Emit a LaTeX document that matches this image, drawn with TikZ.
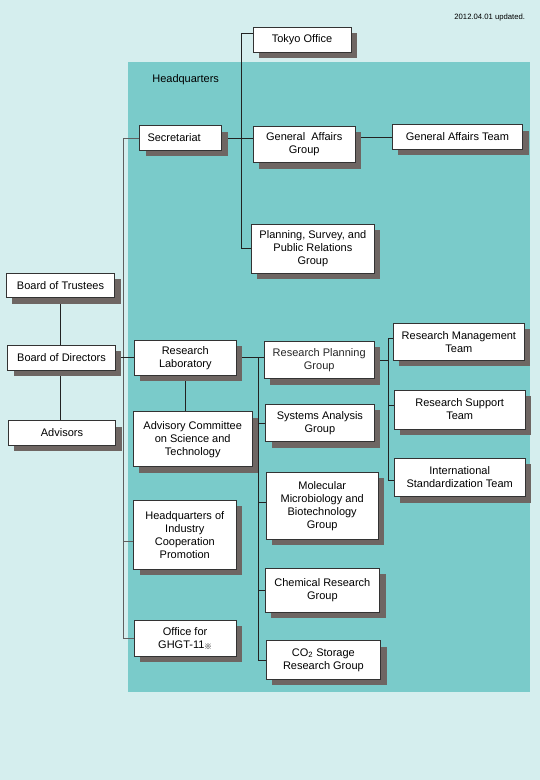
\documentclass[tikz,border=0pt]{standalone}
\usepackage{fontspec}
\setmainfont{Liberation Sans}
\newfontfamily\cjk{Noto Sans CJK JP}
\usepackage{xcolor}
\definecolor{orgBack}{RGB}{213,238,238}
\definecolor{orgTeal}{RGB}{122,203,202}
\definecolor{orgShadow}{RGB}{110,102,99}
\definecolor{orgLine}{RGB}{34,34,34}
\definecolor{orgBus}{RGB}{95,95,95}
\usepackage{tikz}
\usetikzlibrary{shapes,positioning,shadows,backgrounds}

\begin{document}
\begin{tikzpicture}[x=1pt, y=-1pt,
    unit/.style={draw=black!80, line width=0.8pt, fill=white, inner sep=2pt, align=center,
        font=\fontsize{11}{13}\selectfont,
        drop shadow={shadow xshift=6pt, shadow yshift=-6pt, fill=orgShadow, opacity=1}},
    link/.style={draw=orgLine, line width=0.8pt}]
    \useasboundingbox (0,0) rectangle (540,780);

    \node[anchor=east, font=\fontsize{7.7}{9}\selectfont] (date) at (528.6,17.7) {2012.04.01 updated.};
    \node[anchor=west, font=\fontsize{11}{13}\selectfont] (hq) at (148.8,80) {Headquarters};

    \node[unit, minimum width=98, minimum height=25] (tokyo) at (302,39.8) {Tokyo Office};
    \node[unit, minimum width=82, minimum height=24.6, text width=66, inner xsep=8, align=left] (sec) at (180.5,138) {Secretariat};
    \node[unit, minimum width=102.4, minimum height=36.7] (ga) at (304.2,144.3) {General\ \ Affairs\\Group};
    \node[unit, minimum width=130.7, minimum height=24.6] (gat) at (457.4,137) {General Affairs Team};
    \node[unit, minimum width=122.9, minimum height=49.3] (plan) at (312.9,248.7) {Planning, Survey, and\\Public Relations\\Group};

    \node[unit, minimum width=108.5, minimum height=24.4] (trust) at (60.5,285.5) {Board of Trustees};
    \node[unit, minimum width=107.8, minimum height=25] (dir) at (61.5,357.8) {Board of Directors};
    \node[unit, minimum width=107.4, minimum height=24.6] (adv) at (62,433) {Advisors};

    \node[unit, minimum width=101.9, minimum height=35] (lab) at (185.3,357.8) {Research\\Laboratory};
    \node[unit, minimum width=119.5, minimum height=55] (acst) at (192.7,439.2) {Advisory Committee\\on Science and\\Technology};
    \node[unit, minimum width=102.3, minimum height=69] (hicp) at (184.8,534.8) {Headquarters of\\Industry\\Cooperation\\Promotion};
    \node[unit, minimum width=102.2, minimum height=36] (ghgt) at (185.1,638.3) {Office for\\GHGT-11{\cjk\fontsize{7.5}{7.5}\selectfont\raisebox{-1.5pt}{※}}};

    \node[unit, text=black!85, minimum width=110.2, minimum height=37.4] (rpg) at (319.2,360) {Research Planning\\Group};
    \node[unit, minimum width=108.2, minimum height=37.4] (sag) at (319.9,423) {Systems Analysis\\Group};
    \node[unit, minimum width=111.9, minimum height=67.3] (mmb) at (322.2,505.7) {Molecular\\Microbiology and\\Biotechnology\\Group};
    \node[unit, minimum width=114.3, minimum height=44] (chem) at (322.4,590.3) {Chemical Research\\Group};
    \node[unit, minimum width=114.3, minimum height=38.6] (co2) at (323.4,660) {CO\textsubscript{2} Storage\\Research Group};

    \node[unit, minimum width=131.1, minimum height=37] (rmt) at (458.9,341.8) {Research Management\\Team};
    \node[unit, minimum width=130.8, minimum height=39] (rst) at (459.7,409.5) {Research Support\\Team};
    \node[unit, minimum width=130.8, minimum height=38.4] (ist) at (459.7,477.5) {International\\Standardization Team};

    \begin{scope}[on background layer]
        \fill[orgBack] (0,0) rectangle (540,780);
        \fill[orgTeal] (128,62) rectangle (529.6,691.7);
        \coordinate (lbus) at (123,0);
        \coordinate (tbus) at (241.7,0);
        \coordinate (mbus) at (258.3,0);
        \coordinate (rbus) at (388.4,0);

        \draw[link, draw=orgBus] (sec.west) -- (sec.west -| lbus) |- (ghgt.west);
        \draw[link, draw=orgBus] ([yshift=-6.5pt]hicp.west) -- ([yshift=-6.5pt]hicp.west -| lbus);
        \draw[link] (dir.east) -- (lab.west);
        \draw[link] (trust.south) -- (trust.south |- adv.north);

        \draw[link] ([yshift=6pt]tokyo.west) -| (plan.west -| tbus) -- (plan.west);
        \draw[link] (sec.east) -- (sec.east -| ga.west);
        \draw[link] (gat.west) -- (gat.west -| ga.east);

        \draw[link] (lab.south) -- (lab.south |- acst.north);
        \draw[link] (lab.east) -- (lab.east -| rpg.west);
        \draw[link] (lab.east -| mbus) |- (co2.west);
        \draw[link] (sag.west) -- (sag.west -| mbus);
        \draw[link] ([yshift=3pt]mmb.west) -- ([yshift=3pt]mmb.west -| mbus);
        \draw[link] (chem.west) -- (chem.west -| mbus);

        \draw[link] (rpg.east) -- (rpg.east -| rbus);
        \draw[link] ([yshift=3.5pt]rmt.west) -| ([yshift=-3pt]ist.west -| rbus) -- ([yshift=-3pt]ist.west);
        \draw[link] ([yshift=4pt]rst.west) -- ([yshift=4pt]rst.west -| rbus);
    \end{scope}
\end{tikzpicture}
\end{document}
